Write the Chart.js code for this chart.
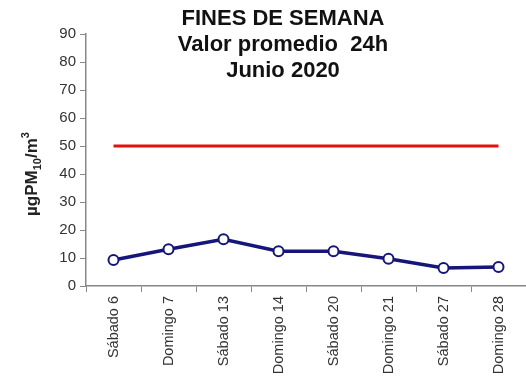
<!DOCTYPE html>
<html>
<head>
<meta charset="utf-8">
<script src="https://cdn.jsdelivr.net/npm/chart.js@4.4.1/dist/chart.umd.min.js"></script>
<style>
  html, body { margin: 0; padding: 0; background: #fff; }
  #wrap { width: 526px; height: 381px; }
</style>
</head>
<body>
<div id="wrap"><canvas id="myChart" width="526" height="381"></canvas></div>
<script>
// Fines de semana, junio 2020
const days = ['Sábado 6', 'Domingo 7', 'Sábado 13', 'Domingo 14', 'Sábado 20', 'Domingo 21', 'Sábado 27', 'Domingo 28'];
const pm10 = [9.3, 13.1, 16.7, 12.4, 12.4, 9.7, 6.4, 6.8];
const limite = [50, 50, 50, 50, 50, 50, 50, 50];
const titleLines = ['FINES DE SEMANA', 'Valor promedio  24h', 'Junio 2020'];

const FONT = '"Liberation Sans", Arial, sans-serif';

// title sits over the plot area and the unit label needs sub/superscripts,
// so both are drawn by hand
const textPlugin = {
    id: 'overText',
    afterDraw(chart) {
        const c = chart.ctx;
        c.save();
        c.fillStyle = '#111';
        c.font = 'bold 22px ' + FONT;
        c.textAlign = 'center';
        c.textBaseline = 'middle';
        titleLines.forEach((t, i) => c.fillText(t, 283, 19 + i * 26));

        // µgPM10/m3, rotated
        c.translate(31, 174);
        c.rotate(-Math.PI / 2);
        c.fillStyle = '#222';
        c.textBaseline = 'alphabetic';
        c.textAlign = 'left';
        const parts = [
            ['µgPM', 17, 0],
            ['10', 11, 4],
            ['/m', 17, 0],
            ['3', 11, -8]
        ];
        let w = 0;
        parts.forEach(p => { c.font = 'bold ' + p[1] + 'px ' + FONT; w += c.measureText(p[0]).width; });
        let x = -w / 2;
        parts.forEach(p => {
            c.font = 'bold ' + p[1] + 'px ' + FONT;
            c.fillText(p[0], x, 6 + p[2]);
            x += c.measureText(p[0]).width;
        });
        c.restore();
    }
};

const ctx = document.getElementById('myChart');

new Chart(ctx, {
    type: 'line',
    data: {
        labels: days,
        datasets: [{
            label: 'Límite',
            data: limite,
            borderColor: '#e31010',
            borderWidth: 3,
            pointRadius: 0,
            order: 2
        }, {
            label: 'PM10',
            data: pm10,
            borderColor: '#15157a',
            borderWidth: 3.5,
            pointRadius: 5,
            pointBackgroundColor: '#fff',
            pointBorderColor: '#15157a',
            pointBorderWidth: 2,
            order: 1
        }]
    },
    options: {
        responsive: false,
        animation: false,
        layout: { autoPadding: false, padding: { top: 34, right: 0, left: 0, bottom: 0 } },
        plugins: {
            legend: { display: false },
            tooltip: { enabled: false }
        },
        scales: {
            x: {
                offset: true,
                grid: { drawOnChartArea: false, offset: true, tickLength: 6, color: '#888' },
                border: { color: '#888', width: 1.5 },
                ticks: {
                    minRotation: 90,
                    maxRotation: 90,
                    color: '#333',
                    padding: 4,
                    font: { family: FONT, size: 14.5 }
                },
                afterFit: s => {
                    s.height = 95;
                    s.paddingLeft = 0;
                    s.paddingRight = 0;
                }
            },
            y: {
                min: 0,
                max: 90,
                grid: { drawOnChartArea: false, tickLength: 6, color: '#888' },
                border: { color: '#888', width: 1.5 },
                ticks: {
                    stepSize: 10,
                    color: '#333',
                    padding: 4,
                    font: { family: FONT, size: 15 }
                },
                afterFit: s => { s.width = 86; }
            }
        }
    },
    plugins: [textPlugin]
});
</script>
</body>
</html>
